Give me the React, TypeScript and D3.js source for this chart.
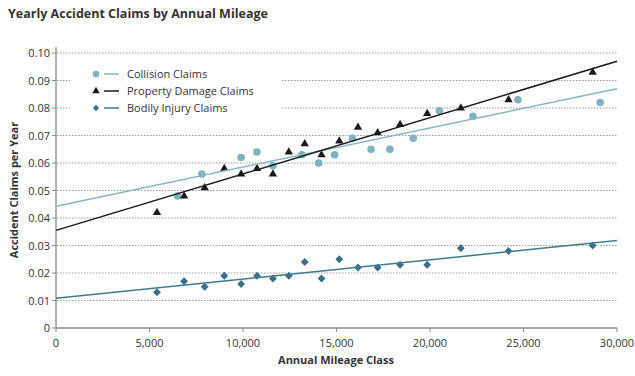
import React from "react";
import * as d3 from "d3";

const collisionX = [6500, 7800, 9900, 10750, 11600, 13150, 14050, 14900, 15850, 16850, 17850, 19100, 20500, 22300, 24700, 29100];
const collisionY = [0.048, 0.056, 0.062, 0.064, 0.059, 0.063, 0.060, 0.063, 0.069, 0.065, 0.065, 0.069, 0.079, 0.077, 0.083, 0.082];
const propertyX = [5400, 6850, 7950, 9000, 9900, 10750, 11600, 12450, 13300, 14200, 15150, 16150, 17200, 18400, 19850, 21650, 24200, 28700];
const propertyY = [0.042, 0.048, 0.051, 0.058, 0.056, 0.058, 0.056, 0.064, 0.067, 0.063, 0.068, 0.073, 0.071, 0.074, 0.078, 0.080, 0.083, 0.093];
const bodilyX = [5400, 6850, 7950, 9000, 9900, 10750, 11600, 12450, 13300, 14200, 15150, 16150, 17200, 18400, 19850, 21650, 24200, 28700];
const bodilyY = [0.013, 0.017, 0.015, 0.019, 0.016, 0.019, 0.018, 0.019, 0.024, 0.018, 0.025, 0.022, 0.022, 0.023, 0.023, 0.029, 0.028, 0.030];
const trendX = [0, 30000];
const collisionTrend = [0.0443, 0.087];
const propertyTrend = [0.0355, 0.097];
const bodilyTrend = [0.0108, 0.0318];
const xTicks = [0, 5000, 10000, 15000, 20000, 25000, 30000];
const yTicks = [0, 0.01, 0.02, 0.03, 0.04, 0.05, 0.06, 0.07, 0.08, 0.09, 0.1];
const legendLabels = ["Collision Claims", "Property Damage Claims", "Bodily Injury Claims"];

const FONT = "'Open Sans', 'Noto Sans', sans-serif";
const C_COLL = "#7fb3c1";
const C_COLL_LINE = "#86b8c4";
const C_PROP = "#1a1a1a";
const C_BOD = "#3c6f89";
const C_BOD_LINE = "#3f7b8e";

export default function App() {
  const x = d3.scaleLinear().domain([0, 30000]).range([56, 617]);
  const y = d3.scaleLinear().domain([0, 0.1]).range([328, 53]);
  const line = d3.line<[number, number]>().x((d) => x(d[0])).y((d) => y(d[1]));
  const trend = (vals: number[]) => line(trendX.map((t, i) => [t, vals[i]] as [number, number])) || "";
  const fmtX = d3.format(",");
  const tri = d3.symbol().type(d3.symbolTriangle).size(30)() || "";
  const dia = (cx: number, cy: number, r: number) => `M${cx},${cy - r}L${cx + r},${cy}L${cx},${cy + r}L${cx - r},${cy}Z`;

  return (
    <svg width={635} height={376} style={{ position: "absolute", left: 0, top: 0, background: "#fff" }} fontFamily={FONT}>
      <text x={8} y={18} fontSize={12.5} fontWeight={700} fill="#333">Yearly Accident Claims by Annual Mileage</text>

      {yTicks.filter((t) => t > 0).map((t) => (
        <line key={"g" + t} x1={57} x2={617} y1={y(t)} y2={y(t)} stroke="#9a9a9a" strokeWidth={1} strokeDasharray="1.5,1.5" />
      ))}

      <rect x={70} y={62} width={212} height={56} fill="#fff" />

      <line x1={56} x2={56} y1={47} y2={328} stroke="#8a8a8a" strokeWidth={1.3} />
      <line x1={56} x2={617} y1={328} y2={328} stroke="#8a8a8a" strokeWidth={1.3} />
      {xTicks.map((t) => (
        <g key={"x" + t}>
          <line x1={x(t)} x2={x(t)} y1={328} y2={332} stroke="#8a8a8a" strokeWidth={1} />
          <text x={x(t)} y={347} fontSize={11} textAnchor="middle" fill="#333">{fmtX(t)}</text>
        </g>
      ))}
      {yTicks.map((t) => (
        <g key={"y" + t}>
          <line x1={52} x2={56} y1={y(t)} y2={y(t)} stroke="#8a8a8a" strokeWidth={1} />
          <text x={50} y={y(t) + 4} fontSize={11} textAnchor="end" fill="#333">{t === 0 ? "0" : t.toFixed(2)}</text>
        </g>
      ))}

      <text x={336} y={364} fontSize={11} fontWeight={700} textAnchor="middle" fill="#333">Annual Mileage Class</text>
      <text transform={`translate(18,190) rotate(-90)`} fontSize={11} fontWeight={700} textAnchor="middle" fill="#333">Accident Claims per Year</text>

      {collisionX.map((v, i) => (
        <circle key={"c" + i} cx={x(v)} cy={y(collisionY[i])} r={3.8} fill={C_COLL} />
      ))}
      {propertyX.map((v, i) => (
        <path key={"p" + i} d={tri} transform={`translate(${x(v)},${y(propertyY[i])})`} fill={C_PROP} />
      ))}
      {bodilyX.map((v, i) => (
        <path key={"b" + i} d={dia(x(v), y(bodilyY[i]), 3.9)} fill={C_BOD} />
      ))}

      <path d={trend(collisionTrend)} stroke={C_COLL_LINE} strokeWidth={1.5} fill="none" />
      <path d={trend(propertyTrend)} stroke={C_PROP} strokeWidth={1.5} fill="none" />
      <path d={trend(bodilyTrend)} stroke={C_BOD_LINE} strokeWidth={1.5} fill="none" />

      {legendLabels.map((lab, i) => {
        const ly = 74 + i * 17;
        const color = i === 0 ? C_COLL : i === 1 ? C_PROP : C_BOD;
        const lcolor = i === 0 ? C_COLL_LINE : i === 1 ? C_PROP : C_BOD_LINE;
        return (
          <g key={"l" + i}>
            {i === 0 && <circle cx={96} cy={ly} r={3.3} fill={color} />}
            {i === 1 && <path d={d3.symbol().type(d3.symbolTriangle).size(24)() || ""} transform={`translate(96,${ly})`} fill={color} />}
            {i === 2 && <path d={dia(96, ly, 3.2)} fill={color} />}
            <line x1={104} x2={119} y1={ly} y2={ly} stroke={lcolor} strokeWidth={1.5} />
            <text x={127} y={ly + 4} fontSize={11} fill="#333">{lab}</text>
          </g>
        );
      })}
    </svg>
  );
}
